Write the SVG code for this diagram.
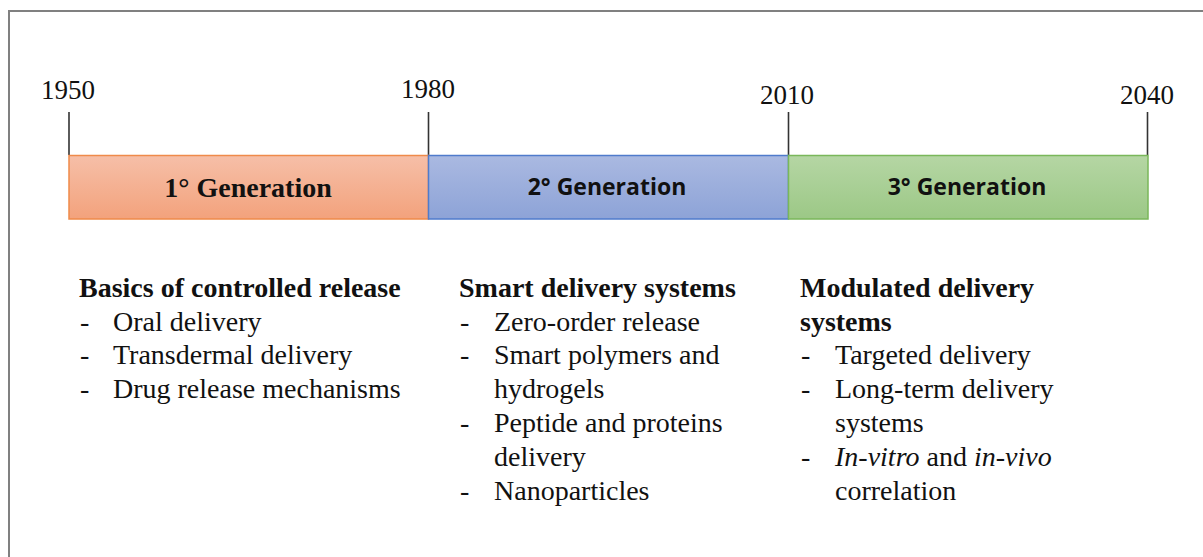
<svg xmlns="http://www.w3.org/2000/svg" width="1203" height="557" viewBox="0 0 1203 557">
  <defs>
    <linearGradient id="gOrange" x1="0" y1="0" x2="0" y2="1">
      <stop offset="0" stop-color="#f6bfa8"/>
      <stop offset="1" stop-color="#f3a27c"/>
    </linearGradient>
    <linearGradient id="gBlue" x1="0" y1="0" x2="0" y2="1">
      <stop offset="0" stop-color="#aab9e1"/>
      <stop offset="1" stop-color="#8da3d7"/>
    </linearGradient>
    <linearGradient id="gGreen" x1="0" y1="0" x2="0" y2="1">
      <stop offset="0" stop-color="#b5d6a4"/>
      <stop offset="1" stop-color="#9cc886"/>
    </linearGradient>
  </defs>
  <style>
    .frame { fill: none; stroke: #808080; stroke-width: 2; }
    .tick { stroke: #333333; stroke-width: 1.6; }
    .year { font-family: "Liberation Serif", "Times New Roman", serif; font-size: 27px; fill: #111; text-anchor: middle; }
    .gen-serif { font-family: "Liberation Serif", "Times New Roman", serif; font-size: 28px; font-weight: bold; fill: #111; text-anchor: middle; }
    .gen-sans { font-family: "Open Sans", "DejaVu Sans", sans-serif; font-size: 23px; font-weight: bold; fill: #111; text-anchor: middle; }
    .body text { font-family: "Liberation Serif", "Times New Roman", serif; font-size: 28px; fill: #111; }
    .body text.head { font-weight: bold; }
    .it { font-style: italic; }
  </style>

  <rect width="1203" height="557" fill="#ffffff"/>
  <!-- page frame: top and left edges -->
  <polyline class="frame" points="9,557 9,11 1203,11"/>

  <!-- timeline ticks and years -->
  <g id="ticks">
    <line class="tick" x1="69" y1="112" x2="69" y2="155"/>
    <line class="tick" x1="428.5" y1="112" x2="428.5" y2="155"/>
    <line class="tick" x1="788.5" y1="112" x2="788.5" y2="155"/>
    <line class="tick" x1="1147.5" y1="112" x2="1147.5" y2="155"/>
    <text class="year" x="68" y="99">1950</text>
    <text class="year" x="428" y="98">1980</text>
    <text class="year" x="787" y="104">2010</text>
    <text class="year" x="1147" y="104">2040</text>
  </g>

  <g id="gen1">
    <rect x="69" y="155.5" width="359.5" height="63.5" fill="url(#gOrange)" stroke="#ef8a4a" stroke-width="1.5"/>
    <text class="gen-serif" x="248" y="197">1° Generation</text>
  </g>
  <g id="gen2">
    <rect x="428.5" y="155.5" width="360" height="63.5" fill="url(#gBlue)" stroke="#4f7bcc" stroke-width="1.5"/>
    <text class="gen-sans" x="607" y="195">2° Generation</text>
  </g>
  <g id="gen3">
    <rect x="788.5" y="155.5" width="359.5" height="63.5" fill="url(#gGreen)" stroke="#7ab75a" stroke-width="1.5"/>
    <text class="gen-sans" x="967" y="195">3° Generation</text>
  </g>

  <!-- first generation topics -->
  <g id="topics1" class="body">
    <text class="head" x="79" y="297">Basics of controlled release</text>
    <text x="80" y="331">-</text><text x="113" y="331">Oral delivery</text>
    <text x="80" y="364">-</text><text x="113" y="364">Transdermal delivery</text>
    <text x="80" y="398">-</text><text x="113" y="398">Drug release mechanisms</text>
  </g>

  <!-- second generation topics -->
  <g id="topics2" class="body">
    <text class="head" x="459" y="297">Smart delivery systems</text>
    <text x="460" y="331">-</text><text x="494" y="331">Zero-order release</text>
    <text x="460" y="364">-</text><text x="494" y="364">Smart polymers and</text>
    <text x="494" y="398">hydrogels</text>
    <text x="460" y="432">-</text><text x="494" y="432">Peptide and proteins</text>
    <text x="494" y="466">delivery</text>
    <text x="460" y="500">-</text><text x="494" y="500">Nanoparticles</text>
  </g>

  <!-- third generation topics -->
  <g id="topics3" class="body">
    <text class="head" x="800" y="297">Modulated delivery</text>
    <text class="head" x="800" y="331">systems</text>
    <text x="801" y="364">-</text><text x="835" y="364">Targeted delivery</text>
    <text x="801" y="398">-</text><text x="835" y="398">Long-term delivery</text>
    <text x="835" y="432">systems</text>
    <text x="801" y="466">-</text><text x="835" y="466"><tspan class="it">In-vitro</tspan> and <tspan class="it">in-vivo</tspan></text>
    <text x="835" y="500">correlation</text>
  </g>
</svg>
